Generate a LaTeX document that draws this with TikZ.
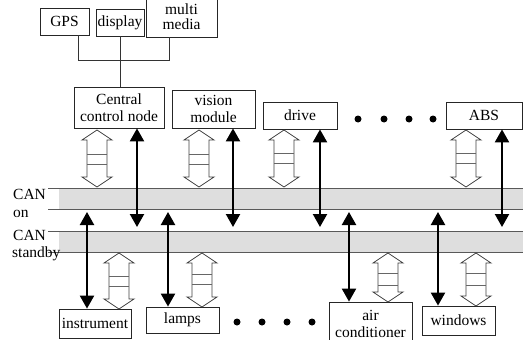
\documentclass[tikz,border=0pt]{standalone}
\usepackage{fontspec}
\setmainfont{Liberation Serif}
\usetikzlibrary{arrows.meta}
\definecolor{bandgray}{HTML}{DEDEDE}
\newcommand{\hollowarrow}[5]{%
  \draw[hollowline] (#1,#2) -- ++(15,10) -- ++(-5,0) -- (#1+10,#3-10) -- ++(5,0) -- (#1,#3)
    -- ++(-15,-10) -- ++(5,0) -- (#1-10,#2+10) -- ++(-5,0) -- cycle;
  \draw[rungline] (#1-10,#4) -- (#1+10,#4) (#1-10,#5) -- (#1+10,#5);}
\begin{document}
\begin{tikzpicture}[x=1pt,y=-1pt,
  box/.style={draw=black!85,line width=0.8pt,inner sep=0pt,align=center,
    font=\fontsize{15.5}{16.5}\selectfont},
  lbl/.style={inner sep=0pt,font=\fontsize{15.5}{16.5}\selectfont},
  conn/.style={draw=black!80,line width=0.8pt},
  blk/.style={line width=2.2pt,{Triangle[width=14pt,length=13pt]}-{Triangle[width=14pt,length=13pt]}},
  hollowline/.style={draw=black!75,line width=0.8pt,fill=white},
  rungline/.style={draw=black!60,line width=0.9pt},
  bandline/.style={draw=black!65,line width=1pt}]
\useasboundingbox (0,0) rectangle (523,340);
\clip (0,0) rectangle (523,340);
% bands
\fill[bandgray] (59,188) rectangle (523,209);
\fill[bandgray] (59,231) rectangle (523,252);
\draw[bandline] (48,188) -- (523,188);
\draw[bandline] (48,209) -- (523,209);
\draw[bandline] (48,231) -- (523,231);
\draw[bandline] (48,252) -- (523,252);
\node[lbl,anchor=base west] (can1) at (13,199) {CAN};
\node[lbl,anchor=base west] (on) at (13,217) {on};
\node[lbl,anchor=base west] (can2) at (13,240) {CAN};
\node[lbl,anchor=base west] (stb) at (12,257) {standby};
% top boxes
\node[box,minimum width=49pt,minimum height=27pt] (gps) at (64.5,21.5) {GPS};
\node[box,minimum width=48pt,minimum height=27pt] (disp) at (120,22.5) {display};
\node[box,minimum width=71pt,minimum height=41pt,font=\fontsize{15.5}{15}\selectfont] (mm) at (181.5,16.5) {multi\\media};
\node[box,minimum width=90pt,minimum height=41pt] (cc) at (119,107.5) {Central\\control node};
\node[box,minimum width=83pt,minimum height=38pt] (vm) at (213.5,109) {vision\\module};
\node[box,minimum width=74pt,minimum height=27pt] (dr) at (300,115.5) {drive};
\node[box,minimum width=76pt,minimum height=27pt] (abs) at (484,115.5) {ABS};
% bottom boxes
\node[box,minimum width=72pt,minimum height=29pt] (inst) at (95,323.5) {instrument};
\node[box,minimum width=73pt,minimum height=26pt] (lamps) at (182.5,320) {lamps};
\node[box,minimum width=83pt,minimum height=44pt] (air) at (370.5,324) {air\\conditioner};
\node[box,minimum width=73pt,minimum height=29pt] (win) at (458.5,320.5) {windows};
% top tree connectors
\coordinate (gx) at (78,0);
\coordinate (mx) at (169,0);
\coordinate (jy) at (0,60);
\draw[conn] (gx |- gps.south) -- (gx |- jy) -- (mx |- jy) -- (mx |- mm.south);
\draw[conn] (disp.south) -- (disp.south |- cc.north);
% dots
\foreach \x in {358,384,409,433} \fill (\x,119) circle (3.5pt);
\foreach \x in {237,262,287,312} \fill (\x,322) circle (3.5pt);
% hollow arrows top
\hollowarrow{97}{130}{187}{154}{164}
\hollowarrow{199}{130}{187}{154}{164}
\hollowarrow{284}{130}{187}{153}{163}
\hollowarrow{466}{130}{187}{153}{163}
% hollow arrows bottom
\hollowarrow{119}{253}{309}{276}{286}
\hollowarrow{202}{253}{307}{274}{284}
\hollowarrow{388}{253}{302}{273}{285}
\hollowarrow{476}{253}{306}{273}{285}
% black arrows top nodes
\coordinate (t1) at (137,227);
\coordinate (t2) at (233,227);
\coordinate (t3) at (320,227);
\coordinate (t4) at (502,227);
\draw[blk] (t1 |- cc.south) -- (t1);
\draw[blk] (t2 |- vm.south) -- (t2);
\draw[blk] (t3 |- dr.south) -- (t3);
\draw[blk] (t4 |- abs.south) -- (t4);
% black arrows bottom nodes
\coordinate (u1) at (87,212);
\coordinate (u2) at (168,212);
\coordinate (u3) at (349,212);
\coordinate (u4) at (438,212);
\draw[blk] (u1) -- (u1 |- inst.north);
\draw[blk] (u2) -- (u2 |- lamps.north);
\draw[blk] (u3) -- (u3 |- air.north);
\draw[blk] (u4) -- (u4 |- win.north);
\end{tikzpicture}
\end{document}
